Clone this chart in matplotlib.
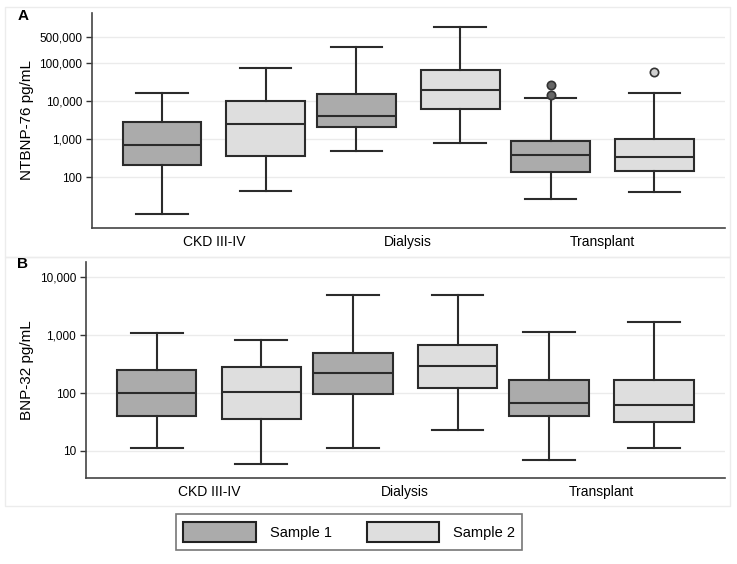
import matplotlib.pyplot as plt
from matplotlib.patches import Rectangle, Patch
from matplotlib.ticker import FixedLocator, NullLocator
import numpy as np

groups = ['CKD III-IV', 'Dialysis', 'Transplant']
samples = ['Sample 1', 'Sample 2']

# NTBNP-76 (panel A): per sample, per group -> (low whisker, q1, median, q3, high whisker)
ntbnp_s1 = [(10.6, 207, 695, 2800, 16200),
            (483, 2070, 4030, 15200, 264000),
            (26, 138, 380, 903, 12000)]
ntbnp_s2 = [(43, 357, 2480, 10000, 73800),
            (800, 6300, 19500, 65500, 885000),
            (42, 150, 350, 1040, 16200)]
ntbnp_out_s1 = [[], [], [14400, 26800]]
ntbnp_out_s2 = [[], [], [58000]]

# BNP-32 (panel B)
bnp_s1 = [(11, 40.6, 100, 250, 1110),
          (11, 98, 221, 490, 4900),
          (7.0, 39.5, 66, 168, 1120)]
bnp_s2 = [(6.0, 35, 104, 284, 840),
          (22.8, 120, 288, 690, 4900),
          (11, 31.6, 63, 168, 1690)]

ticks_a = [100, 1000, 10000, 100000, 500000]
ticks_b = [10, 100, 1000, 10000]

colors = ['#ababab', '#dedede']
edge = '#2b2b2b'

plt.rcParams['font.family'] = ['Liberation Sans', 'DejaVu Sans']

fig = plt.figure(figsize=(7.37, 5.64), dpi=100)

# light panel frames
for y0, y1 in [(7, 257), (257, 506)]:
    fig.patches.append(Rectangle((5 / 737, 1 - y1 / 564), 725 / 737, (y1 - y0) / 564,
                                 transform=fig.transFigure, fill=False,
                                 edgecolor='#ececec', lw=1))

ax_a = fig.add_axes([92 / 737, 1 - 228 / 564, (725 - 92) / 737, (228 - 13) / 564])
ax_b = fig.add_axes([86 / 737, 1 - 478 / 564, (725 - 86) / 737, (478 - 262) / 564])


def make_stats(vals, outs=None):
    st = []
    for i, v in enumerate(vals):
        st.append(dict(whislo=v[0], q1=v[1], med=v[2], q3=v[3], whishi=v[4],
                       fliers=np.array(outs[i] if outs else [])))
    return st


def draw_panel(ax, s1, s2, o1, o2, ticks, ylim, ylabel):
    width = 0.406
    offset = 0.267
    pos = np.arange(len(groups))
    for k, (data, outs) in enumerate([(s1, o1), (s2, o2)]):
        p = pos + (offset if k else -offset)
        ax.bxp(make_stats(data, outs), positions=p, widths=width,
               capwidths=0.264, patch_artist=True, showfliers=True,
               boxprops=dict(facecolor=colors[k], edgecolor=edge, lw=1.5),
               medianprops=dict(color=edge, lw=1.5),
               whiskerprops=dict(color=edge, lw=1.5),
               capprops=dict(color=edge, lw=1.5),
               flierprops=dict(marker='o', markersize=6,
                               markerfacecolor='#666666' if k == 0 else '#cfcfcf',
                               markeredgecolor='#333333', markeredgewidth=1.2))
    ax.set_yscale('log')
    ax.set_ylim(*ylim)
    ax.set_xlim(-0.627, 2.63)
    ax.yaxis.set_major_locator(FixedLocator(ticks))
    ax.yaxis.set_minor_locator(NullLocator())
    ax.set_yticklabels([f'{t:,}' for t in ticks])
    ax.set_xticks(pos)
    ax.set_xticklabels(groups, fontsize=10)
    ax.tick_params(axis='x', length=0, pad=5)
    ax.tick_params(axis='y', length=4, width=1, color='#333333', labelsize=8.5, pad=3)
    ax.grid(axis='y', color='#ebebeb', lw=1)
    ax.set_axisbelow(True)
    for s in ['top', 'right']:
        ax.spines[s].set_visible(False)
    for s in ['left', 'bottom']:
        ax.spines[s].set_color('#444444')
        ax.spines[s].set_linewidth(1.2)
    ax.set_ylabel(ylabel, fontsize=11)


draw_panel(ax_a, ntbnp_s1, ntbnp_s2, ntbnp_out_s1, ntbnp_out_s2,
           ticks_a, (4.6, 2.1e6), 'NTBNP-76 pg/mL')
draw_panel(ax_b, bnp_s1, bnp_s2, None, None,
           ticks_b, (3.4, 18400), 'BNP-32 pg/mL')

fig.text(18 / 737, 1 - 15.5 / 564, 'A', fontsize=11, fontweight='bold', va='center', ha='left')
fig.text(17 / 737, 1 - 264.5 / 564, 'B', fontsize=11, fontweight='bold', va='center', ha='left')

handles = [Patch(facecolor=colors[k], edgecolor='#222222', lw=1.5, label=samples[k])
           for k in range(2)]
leg = fig.legend(handles=handles, loc='center', bbox_to_anchor=(349 / 737, 1 - 532 / 564),
                 ncol=2, frameon=True, fancybox=False, fontsize=10.5,
                 handlelength=5.0, handleheight=1.8, columnspacing=2.4,
                 handletextpad=0.9, borderpad=0.5)
leg.get_frame().set_edgecolor('#555555')
leg.get_frame().set_linewidth(1.2)

fig.savefig('out.png', dpi=100)
